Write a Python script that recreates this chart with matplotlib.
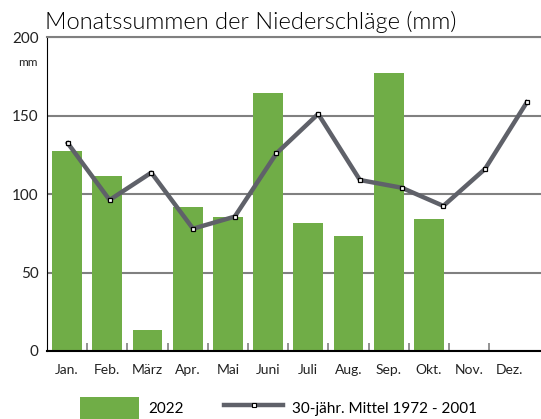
import matplotlib
matplotlib.use("Agg")
import matplotlib.pyplot as plt
from matplotlib.patches import Patch
from matplotlib.lines import Line2D
import numpy as np

plt.rcParams['font.family'] = ['Lato', 'DejaVu Sans']

months = ['Jan.', 'Feb.', 'März', 'Apr.', 'Mai', 'Juni', 'Juli', 'Aug.', 'Sep.', 'Okt.', 'Nov.', 'Dez.']
rain_2022 = [127.4, 111.5, 13.4, 91.7, 85.4, 164.3, 81.5, 73.2, 177.0, 84.0, None, None]
mean_1972_2001 = [132.3, 96.2, 113.6, 77.9, 85.6, 125.9, 151.0, 108.9, 104.0, 92.4, 116.0, 158.4]

green = '#70ad47'
line_col = '#5f6169'

fig = plt.figure(figsize=(5.41, 4.19), dpi=100)
ax = fig.add_axes([47 / 541, 1 - 351 / 419, 1 - 47 / 541, 314 / 419])

x = np.arange(len(months))
vals = [v if v is not None else 0 for v in rain_2022]
ax.bar(x, vals, width=0.74, color=green, zorder=2)

ax.set_xlim(-0.5, 11.79)
ax.set_ylim(0, 200)
ax.set_yticks([0, 50, 100, 150, 200])
ax.yaxis.grid(True, color='#808080', linewidth=1.5, zorder=0)
ax.set_axisbelow(True)
ax.tick_params(axis='y', length=0, pad=6, labelsize=11, labelcolor='#222222')
ax.set_xticks(x)
ax.set_xticklabels(months)
ax.tick_params(axis='x', which='major', length=0, pad=9, labelsize=10, labelcolor='#222222')
ax.set_xticks(np.arange(0.5, 11, 1), minor=True)
ax.tick_params(axis='x', which='minor', direction='in', length=6, color='#808080', width=1.2)
ax.spines['right'].set_visible(False)
ax.spines['top'].set_color('#808080')
ax.spines['top'].set_linewidth(1.5)
ax.spines['left'].set_color('black')
ax.spines['bottom'].set_color('black')
ax.spines['bottom'].set_linewidth(1.5)

# the mean line sits on its own slightly wider x scale
ax2 = ax.twiny()
ax2.plot(x, mean_1972_2001, color=line_col, linewidth=3.2, marker='s', markersize=3.5,
         markerfacecolor='white', markeredgecolor='black', markeredgewidth=0.9, zorder=3)
ax2.set_xlim(-0.5, 11.34)
ax2.set_ylim(0, 200)
ax2.axis('off')

fig.text(28 / 541, 1 - 62 / 419, 'mm', fontsize=8.5, ha='center', va='center', color='#222222')
fig.text(45 / 541, 1 - 29 / 419, 'Monatssummen der Niederschläge (mm)', fontsize=17,
         fontweight=300, ha='left', va='baseline', color='black')

handles = [Patch(facecolor=green, edgecolor='none', label='2022'),
           Line2D([0], [0], color=line_col, linewidth=3.2, marker='s', markersize=3,
                  markerfacecolor='white', markeredgecolor='black', markeredgewidth=0.8,
                  label='30-jähr. Mittel 1972 - 2001')]
fig.legend(handles=handles, loc='center', bbox_to_anchor=(0.515, 1 - 408 / 419), ncol=2,
           frameon=False, fontsize=11, handlelength=3.9, handleheight=1.9,
           columnspacing=2.6, handletextpad=0.6)

fig.savefig('out.png', dpi=100)
